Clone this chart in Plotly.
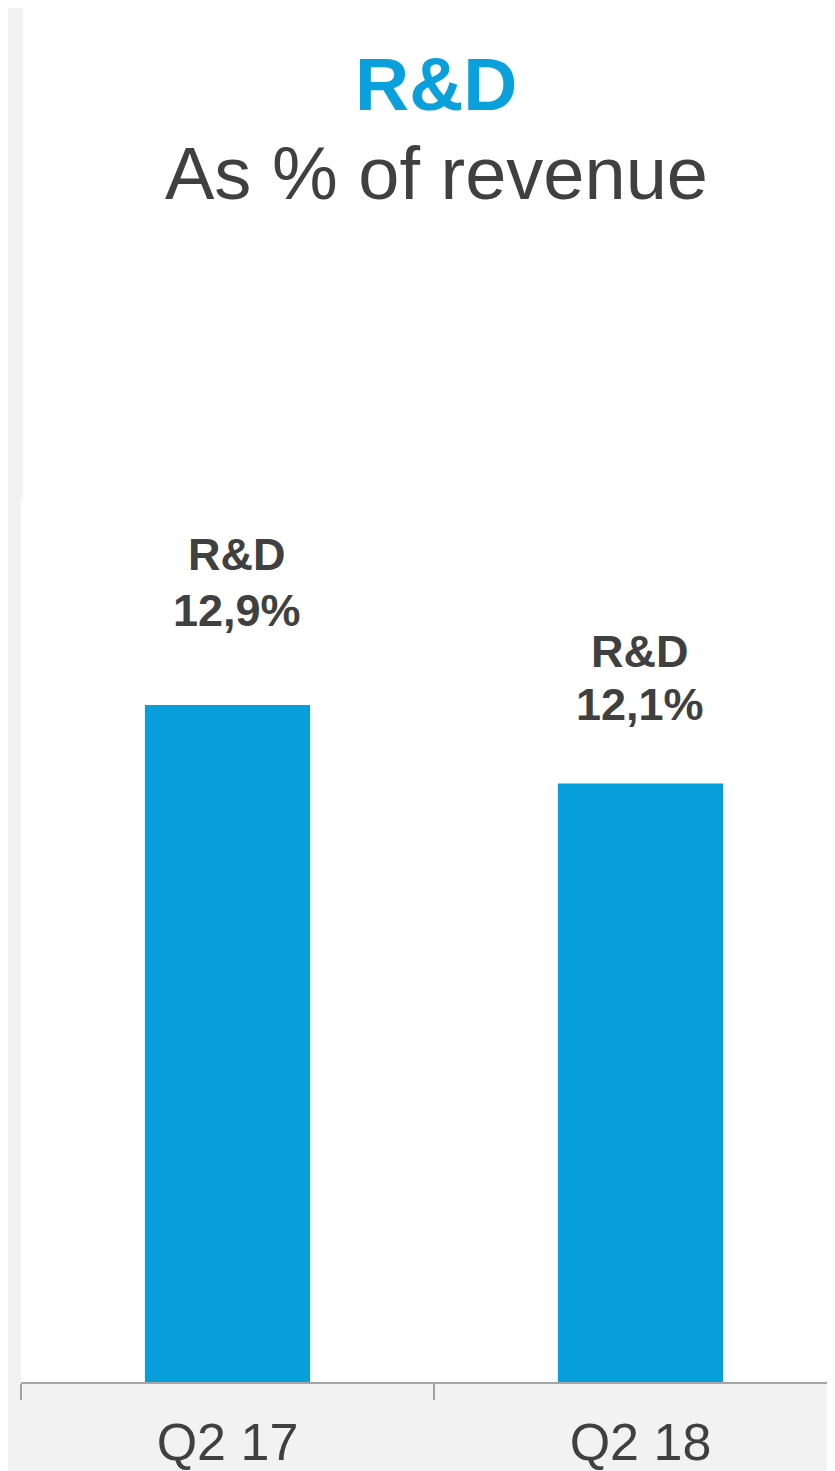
import plotly.graph_objects as go

# data
quarters = ['Q2 17', 'Q2 18']
rd_share = [12.9, 12.1]
value_labels = ['12,9%', '12,1%']
series_name = 'R&D'

bar_blue = '#079fdb'
text_grey = '#404040'
bg_grey = '#f2f2f2'

fig = go.Figure()
fig.add_trace(go.Bar(x=quarters, y=rd_share, base=0,
                     marker_color=bar_blue, marker_line_width=0,
                     width=0.4, hoverinfo='x+y', showlegend=False))

# labels above the bars (positions in paper units)
name_pos = [0.935, 0.8254]
value_pos = [0.872, 0.765]
label_shift = [10, 0]
annotations = []
for i, q in enumerate(quarters):
    annotations.append(dict(x=q, y=name_pos[i], xref='x', yref='paper', text='<b>%s</b>' % series_name,
                            showarrow=False, xanchor='center', yanchor='middle', xshift=label_shift[i],
                            font=dict(size=45, color=text_grey)))
    annotations.append(dict(x=q, y=value_pos[i], xref='x', yref='paper', text='<b>%s</b>' % value_labels[i],
                            showarrow=False, xanchor='center', yanchor='middle', xshift=label_shift[i],
                            font=dict(size=45, color=text_grey)))

# header
annotations.append(dict(x=0.51, y=1.4667, xref='paper', yref='paper', text='<b>R&D</b>',
                        showarrow=False, xanchor='center', yanchor='middle',
                        font=dict(size=75, color='#0aa0dc')))
annotations.append(dict(x=0.51, y=1.365, xref='paper', yref='paper', text='As % of revenue',
                        showarrow=False, xanchor='center', yanchor='middle',
                        font=dict(size=74, color=text_grey)))

# page body keeps an 8px margin, so the figure is 8px smaller than the window
fig.update_layout(
    width=827, height=1463,
    margin=dict(l=13, r=0, t=489, b=89, pad=0),
    paper_bgcolor=bg_grey, plot_bgcolor='white',
    font=dict(family='Liberation Sans, Arial, sans-serif', color=text_grey),
    annotations=annotations,
    shapes=[dict(type='rect', xref='paper', yref='paper', x0=0.00246, x1=1.0, y0=1.0, y1=1.5525,
                 fillcolor='white', line_width=0, layer='below')],
)
fig.update_xaxes(type='category', range=[-0.5, 1.471], automargin=False,
                 tickson='boundaries', ticks='outside', ticklen=16, tickcolor='#a0a0a0', tickwidth=1.5,
                 ticklabelstandoff=14,
                 showline=True, linecolor='#a6a6a6', linewidth=2, showgrid=False, zeroline=False,
                 tickfont=dict(size=52, color=text_grey), fixedrange=True)
fig.update_yaxes(range=[6, 15.02], visible=False, showgrid=False, zeroline=False, fixedrange=True)

fig.write_html('out.html', config={'displayModeBar': False})
